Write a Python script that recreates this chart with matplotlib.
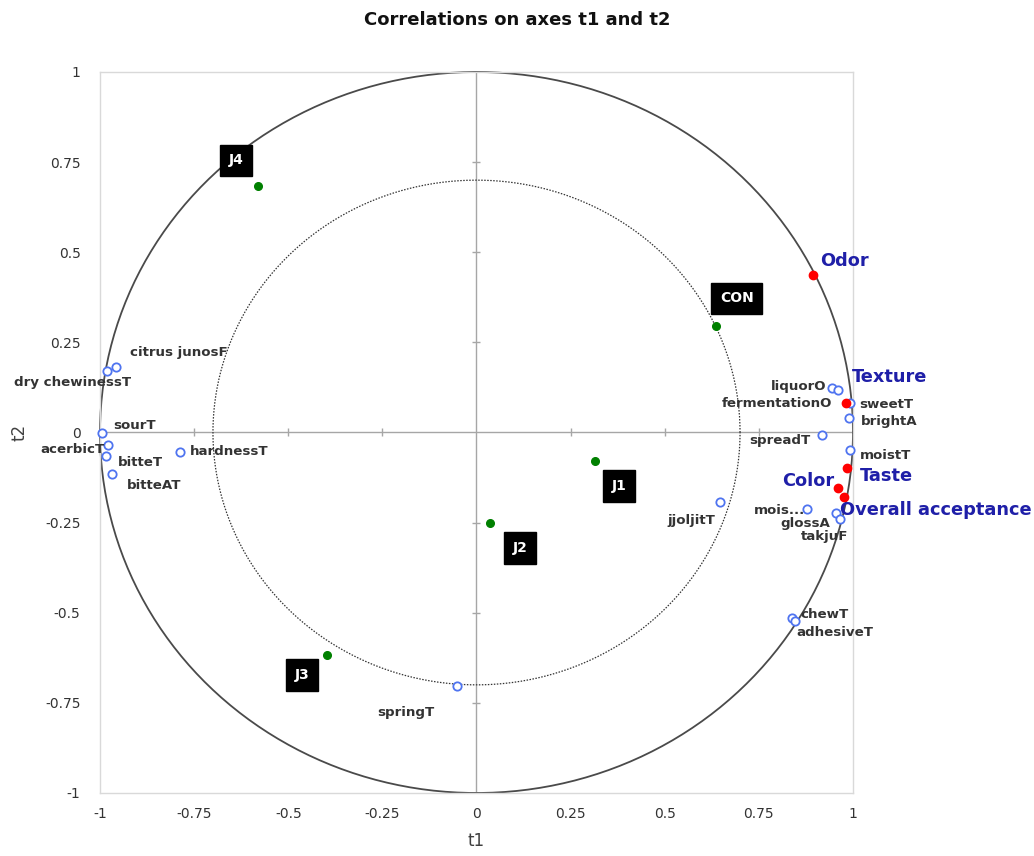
import numpy as np
import matplotlib
matplotlib.use("Agg")
import matplotlib.pyplot as plt

# Active variables (descriptive attributes) - correlations with t1, t2
var_names = ["citrus junosF", "dry chewinessT", "sourT", "acerbicT", "bitteT", "bitteAT",
             "hardnessT", "springT", "jjoljitT", "chewT", "adhesiveT", "liquorO",
             "fermentationO", "sweetT", "brightA", "spreadT", "moistT", "mois...",
             "glossA", "takjuF"]
var_t1 = [-0.958, -0.981, -0.995, -0.979, -0.984, -0.968, -0.788, -0.052, 0.647, 0.838,
          0.846, 0.944, 0.960, 0.992, 0.990, 0.918, 0.992, 0.878, 0.955, 0.965]
var_t2 = [0.182, 0.171, -0.001, -0.035, -0.065, -0.115, -0.054, -0.703, -0.193, -0.515,
          -0.523, 0.123, 0.118, 0.082, 0.040, -0.007, -0.049, -0.212, -0.223, -0.240]

# Supplementary variables (hedonic scores)
sup_names = ["Odor", "Texture", "Taste", "Color", "Overall acceptance"]
sup_t1 = [0.894, 0.981, 0.984, 0.960, 0.976]
sup_t2 = [0.437, 0.082, -0.098, -0.154, -0.179]

# Samples
obs_names = ["J4", "CON", "J1", "J2", "J3"]
obs_t1 = [-0.580, 0.636, 0.315, 0.036, -0.397]
obs_t2 = [0.683, 0.295, -0.079, -0.251, -0.617]

ticks = [-1, -0.75, -0.5, -0.25, 0, 0.25, 0.5, 0.75, 1]
tick_labels = ["-1", "-0.75", "-0.5", "-0.25", "0", "0.25", "0.5", "0.75", "1"]

# label placement (offset in pixels, horizontal alignment)
var_offsets = [(14, 14, "left"), (24, -12, "right"), (11, 7, "left"), (-3, -4, "right"),
               (12, -7, "left"), (15, -12, "left"), (10, 0, "left"), (-22, -27, "right"),
               (-5, -18, "right"), (8, 4, "left"), (1, -11, "left"), (-6, 2, "right"),
               (-6, -14, "right"), (9, -2, "left"), (12, -3, "left"), (-12, -5, "right"),
               (10, -5, "left"), (-2, -2, "right"), (-6, -11, "right"), (8, -17, "right")]
sup_offsets = [(7, 14, "left"), (6, 26, "left"), (13, -8, "left"), (-4, 7, "right"),
               (-4, -13, "left")]
obs_offsets = [(-22, 26), (21, 28), (24, -25), (30, -25), (-25, -20)]

fig = plt.figure(figsize=(10.34, 8.56), dpi=100)
ax = fig.add_axes([100 / 1034, 63 / 856, 753 / 1034, 721 / 856])
ax.set_xlim(-1, 1)
ax.set_ylim(-1, 1)

for s in ax.spines.values():
    s.set_color("#d9d9d9")
    s.set_linewidth(1)

# circles
th = np.linspace(0, 2 * np.pi, 400)
ax.plot(np.cos(th), np.sin(th), color="#4a4a4a", lw=1.3, clip_on=False, zorder=2)
ax.plot(0.7 * np.cos(th), 0.7 * np.sin(th), color="#333333", lw=0.9, ls=(0, (1.2, 1.2)), zorder=2)

# zero axes with small tick marks
ax.axhline(0, color="#a6a6a6", lw=1, zorder=1)
ax.axvline(0, color="#a6a6a6", lw=1, zorder=1)
minor = [t for t in ticks if t not in (-1, 0, 1)]
ax.plot(minor, [0] * len(minor), ls="none", marker="|", ms=6, color="#a6a6a6", zorder=1)
ax.plot([0] * len(minor), minor, ls="none", marker="_", ms=6, color="#a6a6a6", zorder=1)

ax.set_xticks(ticks)
ax.set_xticklabels(tick_labels)
ax.set_yticks(ticks)
ax.set_yticklabels(tick_labels)
ax.tick_params(length=0, labelsize=10, labelcolor="#333333")
ax.tick_params(axis="x", pad=10)
ax.tick_params(axis="y", pad=14)
ax.set_xlabel("t1", fontsize=12, color="#404040", labelpad=8)
ax.set_ylabel("t2", fontsize=12, color="#404040", labelpad=12)
fig.text(0.5, 1 - 20 / 856, "Correlations on axes t1 and t2", ha="center", va="center",
         fontsize=13, fontweight="bold", color="#111111")

# active variables
ax.plot(var_t1, var_t2, ls="none", marker="o", ms=6, mfc="white", mec="#4f74f0",
        mew=1.3, zorder=4, clip_on=False)
for n, x, y, (dx, dy, ha) in zip(var_names, var_t1, var_t2, var_offsets):
    ax.annotate(n, (x, y), xytext=(dx, dy), textcoords="offset pixels", ha=ha, va="center",
                fontsize=9.6, fontweight="bold", color="#333333", annotation_clip=False, zorder=5)

# supplementary variables
ax.plot(sup_t1, sup_t2, ls="none", marker="o", ms=6, color="#ff0000", zorder=4, clip_on=False)
for n, x, y, (dx, dy, ha) in zip(sup_names, sup_t1, sup_t2, sup_offsets):
    ax.annotate(n, (x, y), xytext=(dx, dy), textcoords="offset pixels", ha=ha, va="center",
                fontsize=12.8, fontweight="bold", color="#1f1fa8", annotation_clip=False, zorder=5)

# samples
ax.plot(obs_t1, obs_t2, ls="none", marker="o", ms=5.5, color="#008000", zorder=4)
for n, x, y, (dx, dy) in zip(obs_names, obs_t1, obs_t2, obs_offsets):
    ax.annotate(n, (x, y), xytext=(dx, dy), textcoords="offset pixels", ha="center", va="center",
                fontsize=10, fontweight="bold", color="white", zorder=6,
                bbox=dict(boxstyle="square,pad=0.62", fc="black", ec="black"))

fig.savefig("out.png", dpi=100)
